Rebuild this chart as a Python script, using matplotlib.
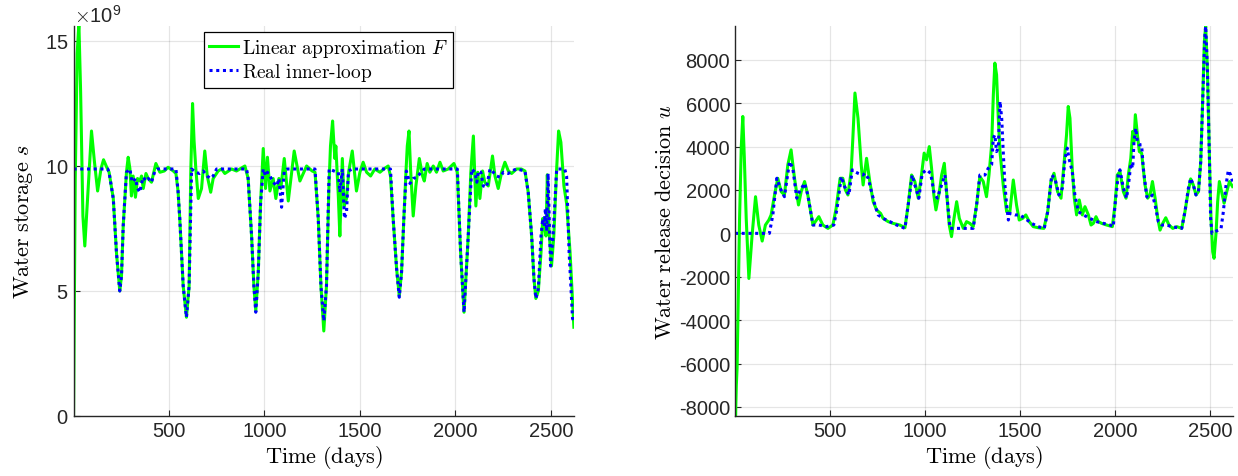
import matplotlib
matplotlib.use("Agg")
import matplotlib.pyplot as plt
import numpy as np
from matplotlib.ticker import ScalarFormatter

plt.rcParams['mathtext.fontset'] = 'cm'
plt.rcParams['font.family'] = ['Liberation Sans', 'DejaVu Sans']
plt.rcParams['axes.unicode_minus'] = False

# ---- water storage (x 1e9) ----
days_s_lin = [1, 10, 20, 29, 38, 50, 60, 75, 95, 110, 127, 145, 158, 172, 187, 209, 226, 243, 252, 261,
              278, 287, 296, 304, 313, 325, 336, 348, 357, 366, 380, 392, 409, 432, 453, 476, 496, 523, 537, 548,
              557, 575, 592, 606, 615, 624, 632, 641, 654, 671, 688, 701, 719, 732, 758, 776, 793, 828, 854, 898,
              915, 933, 945, 955, 968, 980, 994, 1006, 1016, 1029, 1046, 1060, 1076, 1086, 1104, 1125, 1156, 1186, 1221, 1250,
              1265, 1282, 1296, 1311, 1325, 1338, 1346, 1357, 1363, 1369, 1374, 1387, 1395, 1408, 1418, 1430, 1442, 1460, 1482, 1500,
              1517, 1535, 1556, 1578, 1605, 1625, 1648, 1660, 1674, 1692, 1706, 1718, 1730, 1741, 1748, 1757, 1765, 1779, 1793, 1811,
              1828, 1837, 1852, 1866, 1884, 1901, 1919, 1936, 1962, 1992, 2010, 2027, 2045, 2067, 2081, 2094, 2107, 2117, 2128, 2142,
              2154, 2172, 2194, 2207, 2224, 2242, 2259, 2277, 2294, 2320, 2345, 2364, 2381, 2399, 2411, 2421, 2434, 2448, 2457, 2466,
              2474, 2481, 2490, 2503, 2515, 2530, 2540, 2552, 2568, 2582, 2600, 2620]
s_lin = [0.0, 9.5, 14.5, 15.7, 13.0, 8.0, 6.8, 8.8, 11.4, 10.2, 9.0, 9.9, 10.25, 10.0, 9.75, 8.7, 6.5, 5.0, 5.6, 7.6,
         9.75, 10.35, 9.9, 8.8, 9.6, 8.75, 9.5, 9.4, 9.6, 9.1, 9.7, 9.5, 9.35, 10.1, 9.75, 9.8, 9.95, 9.8, 9.7, 9.0,
         7.9, 5.2, 3.95, 5.2, 9.9, 12.5, 11.0, 9.9, 8.7, 9.1, 10.6, 9.6, 8.95, 9.5, 9.8, 9.88, 9.7, 9.88, 9.8, 10.0,
         9.5, 7.2, 5.2, 4.2, 5.75, 8.5, 10.7, 9.1, 10.35, 9.0, 9.5, 8.7, 9.5, 9.1, 10.3, 8.6, 10.6, 9.4, 10.0, 9.8,
         9.75, 7.9, 5.2, 3.4, 5.2, 9.2, 10.8, 11.8, 11.0, 10.3, 10.8, 8.8, 7.2, 10.3, 8.4, 8.7, 9.8, 10.6, 9.0, 9.75,
         10.15, 9.75, 9.6, 9.88, 9.75, 9.88, 10.0, 9.6, 7.9, 5.9, 4.8, 5.75, 7.9, 9.75, 10.8, 11.4, 9.9, 8.0, 9.2, 10.3,
         9.6, 9.4, 10.1, 9.75, 10.0, 9.75, 10.15, 9.8, 9.88, 10.1, 9.75, 6.55, 4.15, 7.2, 9.8, 11.2, 8.4, 9.75, 8.7, 9.8,
         9.35, 9.2, 10.4, 9.6, 9.1, 9.75, 10.15, 9.8, 9.7, 9.88, 9.88, 9.8, 8.95, 7.2, 5.5, 4.7, 5.0, 6.55, 7.9, 7.6,
         7.2, 9.65, 7.4, 6.0, 7.2, 9.9, 11.4, 10.95, 9.2, 8.5, 6.55, 3.55]

days_s_real = [1, 180, 187, 209, 226, 243, 252, 261, 278, 296, 304, 313, 325, 336, 348, 357, 366, 380, 392, 409,
               427, 440, 537, 548, 557, 575, 592, 606, 619, 640, 660, 680, 700, 719, 732, 750, 907, 915, 933, 945,
               955, 968, 980, 994, 1006, 1016, 1029, 1046, 1065, 1076, 1090, 1104, 1120, 1265, 1282, 1296, 1311, 1325, 1339, 1380,
               1387, 1395, 1408, 1419, 1430, 1440, 1460, 1660, 1674, 1692, 1706, 1718, 1730, 1743, 1762, 1779, 1799, 1820, 1837, 2010,
               2027, 2045, 2067, 2085, 2102, 2112, 2120, 2133, 2146, 2163, 2181, 2198, 2216, 2233, 2251, 2277, 2294, 2320, 2364, 2381,
               2399, 2411, 2421, 2434, 2448, 2457, 2464, 2471, 2478, 2485, 2492, 2498, 2511, 2530, 2572, 2582, 2595, 2613, 2620]
s_real = [9.88, 9.88, 9.75, 8.7, 6.5, 5.0, 5.6, 7.6, 9.75, 9.88, 9.5, 9.35, 9.5, 9.1, 8.95, 9.3, 9.55, 9.4, 9.5, 9.35,
          9.8, 9.88, 9.88, 9.0, 7.9, 5.2, 3.95, 5.2, 9.88, 9.75, 9.7, 9.8, 9.6, 9.5, 9.6, 9.88, 9.88, 9.5, 7.2, 5.2,
          4.15, 5.75, 8.5, 9.88, 9.6, 9.75, 9.6, 9.35, 9.2, 9.5, 8.35, 9.8, 9.88, 9.88, 7.9, 5.2, 3.8, 5.2, 9.88, 9.75,
          9.75, 8.95, 9.88, 7.9, 8.15, 9.8, 9.88, 9.88, 7.9, 5.9, 4.75, 5.75, 7.9, 9.8, 9.3, 9.5, 9.55, 9.75, 9.88, 9.88,
          6.55, 4.15, 7.2, 9.88, 9.75, 9.35, 9.8, 9.75, 9.2, 9.15, 9.88, 9.75, 9.6, 9.55, 9.75, 9.7, 9.8, 9.88, 9.8, 8.95,
          7.2, 5.5, 4.7, 5.1, 7.2, 7.9, 7.6, 8.3, 7.4, 9.7, 7.6, 6.0, 7.2, 9.88, 9.88, 9.6, 6.55, 3.9, 3.8]

# ---- water release decision ----
days_u_lin = [1, 4, 8, 12, 25, 34, 42, 50, 60, 74, 91, 109, 126, 144, 161, 179, 191, 209, 226, 244,
              261, 279, 296, 314, 335, 349, 367, 384, 411, 442, 463, 490, 516, 533, 554, 568, 582, 595, 612, 621,
              632, 648, 665, 675, 693, 710, 728, 746, 767, 780, 807, 833, 868, 895, 912, 930, 947, 965, 982, 996,
              1009, 1023, 1035, 1047, 1058, 1076, 1088, 1102, 1114, 1128, 1140, 1153, 1167, 1181, 1202, 1219, 1237, 1254, 1272, 1289,
              1307, 1324, 1337, 1351, 1360, 1368, 1377, 1386, 1395, 1412, 1430, 1447, 1465, 1482, 1496, 1514, 1531, 1549, 1570, 1596,
              1626, 1646, 1663, 1679, 1698, 1716, 1733, 1745, 1754, 1763, 1775, 1786, 1798, 1812, 1828, 1842, 1860, 1874, 1886, 1900,
              1912, 1930, 1956, 1986, 2000, 2012, 2026, 2044, 2058, 2070, 2083, 2093, 2100, 2107, 2118, 2128, 2140, 2158, 2172, 2184,
              2197, 2211, 2225, 2237, 2251, 2267, 2284, 2304, 2325, 2351, 2368, 2382, 2398, 2412, 2426, 2439, 2451, 2461, 2470, 2477,
              2486, 2496, 2505, 2514, 2521, 2532, 2540, 2549, 2561, 2574, 2588, 2602, 2618]
u_lin = [-5930, -8400, -7000, -6200, 690, 4000, 5390, 3500, 690, -2080, -80, 1690, 385, -355, 385, 615, 850, 1770, 2540, 1920,
         1770, 3160, 3850, 2540, 1310, 1920, 2390, 1770, 385, 770, 385, 230, 385, 1150, 2540, 2540, 2000, 1770, 2850, 4390,
         6470, 5310, 3160, 2230, 3460, 2390, 1460, 1080, 920, 690, 540, 460, 385, 260, 1310, 2690, 2390, 1620, 2690, 3700,
         3390, 4000, 3000, 1770, 1080, 1920, 2690, 3230, 1920, 385, -150, 690, 1460, 690, 230, 540, 460, 310, 1310, 2620,
         2390, 1690, 2690, 4080, 6390, 7850, 7310, 5310, 3770, 2230, 1000, 1000, 2460, 1310, 615, 690, 850, 540, 310, 260,
         230, 1000, 2390, 2770, 1920, 1620, 3310, 4540, 5850, 5310, 3000, 1620, 850, 1540, 850, 1230, 850, 385, 460, 770,
         540, 460, 385, 310, 1310, 2690, 2850, 1920, 1620, 2690, 3460, 4700, 4240, 5470, 4540, 3770, 3700, 2230, 1620, 1770,
         2390, 1620, 690, 150, 460, 720, 385, 230, 310, 230, 1000, 1770, 2510, 2230, 1770, 1920, 3310, 6080, 8850, 9550,
         7620, 3770, 690, -850, -1150, 80, 1460, 2390, 1920, 1390, 1920, 2390, 2160]

days_u_real = [1, 182, 200, 221, 239, 261, 288, 305, 326, 340, 367, 384, 411, 442, 481, 521, 538, 560, 575, 600,
               618, 630, 648, 674, 684, 702, 719, 737, 754, 780, 816, 851, 895, 912, 933, 947, 968, 986, 1009, 1030,
               1047, 1065, 1088, 1105, 1117, 1132, 1254, 1272, 1289, 1316, 1333, 1351, 1360, 1368, 1377, 1386, 1395, 1404, 1412, 1421,
               1430, 1439, 1447, 1474, 1500, 1526, 1561, 1596, 1628, 1646, 1667, 1684, 1705, 1723, 1737, 1749, 1758, 1775, 1789, 1807,
               1833, 1868, 1903, 1939, 1974, 1991, 2000, 2017, 2026, 2044, 2061, 2075, 2083, 2093, 2100, 2109, 2118, 2128, 2140, 2149,
               2167, 2181, 2197, 2211, 2228, 2246, 2272, 2298, 2351, 2368, 2386, 2398, 2412, 2426, 2439, 2451, 2461, 2472, 2477, 2486,
               2496, 2503, 2510, 2526, 2544, 2558, 2570, 2584, 2596, 2609, 2618]
u_real = [0, 0, 850, 2540, 2080, 1690, 3310, 3000, 1620, 1920, 2310, 1770, 385, 385, 310, 385, 1150, 2620, 2200, 1770,
          2930, 2850, 2770, 2690, 2770, 2540, 1920, 1310, 850, 690, 540, 385, 230, 1310, 2690, 2230, 1620, 2770, 2930, 2770,
          1920, 1620, 2230, 2690, 1620, 230, 230, 1310, 2690, 2690, 3000, 3160, 4390, 4540, 3770, 3930, 6080, 5310, 3770, 2230,
          1310, 615, 920, 850, 850, 690, 460, 310, 230, 1000, 2690, 2540, 1770, 2080, 3460, 3930, 3460, 2850, 1770, 1000,
          850, 690, 540, 460, 385, 310, 1310, 2690, 2930, 2080, 1620, 2540, 3230, 3000, 4240, 4850, 4240, 4080, 4080, 3000,
          1690, 1620, 1770, 1310, 540, 385, 385, 310, 230, 1000, 2080, 2540, 2230, 1770, 1920, 3310, 6080, 9010, 9550, 7620,
          3770, 690, 0, 80, 150, 230, 1000, 2230, 2900, 2690, 2390]

label_lin = r'$\mathrm{Linear\ approximation}\ F$'
label_real = r'$\mathrm{Real\ inner\text{-}loop}$'

green = '#00ff00'
blue = '#0000ff'
spine_col = '#262626'

fig = plt.figure(figsize=(12.38, 4.77), dpi=100)
ax1 = fig.add_axes([0.0594, 0.1258, 0.4043, 0.8176])
ax2 = fig.add_axes([0.5937, 0.1258, 0.4023, 0.8176])


def style_axes(ax):
    ax.grid(True, color='#000000', alpha=0.1, linewidth=0.9)
    ax.set_axisbelow(True)
    for side in ['top', 'right']:
        ax.spines[side].set_visible(False)
    for side in ['left', 'bottom']:
        ax.spines[side].set_color(spine_col)
        ax.spines[side].set_linewidth(1.0)
    ax.tick_params(direction='in', length=4, width=0.8, colors=spine_col, labelsize=14.5,
                   labelcolor='#262626')
    ax.set_xlim(1, 2621)
    ax.set_xticks([500, 1000, 1500, 2000, 2500])
    ax.set_xlabel(r'$\mathrm{Time\ (days)}$', fontsize=16, labelpad=2)


ax1.plot(days_s_lin, np.array(s_lin) * 1e9, color=green, lw=2.2, label=label_lin)
ax1.plot(days_s_real, np.array(s_real) * 1e9, color=blue, lw=2.2, ls=(0, (1, 1.2)), label=label_real)
style_axes(ax1)
ax1.set_ylim(0, 15.6e9)
ax1.set_yticks([0, 5e9, 10e9, 15e9])
fmt = ScalarFormatter(useMathText=True)
fmt.set_powerlimits((9, 9))
ax1.yaxis.set_major_formatter(fmt)
ax1.yaxis.get_offset_text().set_fontsize(14.5)
ax1.set_ylabel(r'$\mathrm{Water\ storage}\ s$', fontsize=16, labelpad=7)
leg = ax1.legend(loc='upper center', bbox_to_anchor=(0.51, 0.985), fontsize=14,
                 frameon=True, fancybox=False, edgecolor='#000000', framealpha=1,
                 handlelength=1.5, handletextpad=0.2, borderpad=0.25, labelspacing=0.1,
                 borderaxespad=0)
leg.get_frame().set_linewidth(0.9)

ax2.plot(days_u_lin, u_lin, color=green, lw=2.2)
ax2.plot(days_u_real, u_real, color=blue, lw=2.2, ls=(0, (1, 1.2)))
style_axes(ax2)
ax2.set_ylim(-8420, 9560)
ax2.set_yticks(np.arange(-8000, 8001, 2000))
ax2.set_ylabel(r'$\mathrm{Water\ release\ decision}\ u$', fontsize=16, labelpad=2)

fig.savefig('out.png', dpi=100)
